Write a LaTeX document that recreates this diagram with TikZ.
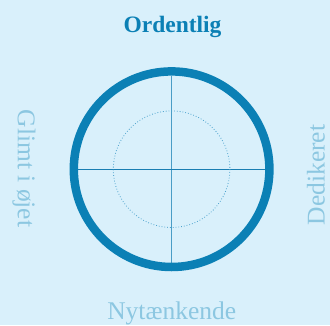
\documentclass[tikz,border=0pt]{standalone}
\usepackage{fontspec}
\setmainfont{Liberation Serif}
\definecolor{bgblue}{HTML}{D9F0FB}
\definecolor{deepblue}{HTML}{0B80B5}
\definecolor{paleblue}{HTML}{8CC7E1}
\definecolor{vline}{HTML}{4A9DC6}
\definecolor{hline}{HTML}{1A7EB2}
\definecolor{dotblue}{HTML}{4DA3CD}
\begin{document}
\begin{tikzpicture}[x=1pt,y=-1pt,
  title/.style={text=deepblue,font=\bfseries\fontsize{23.5}{26}\selectfont,inner sep=0pt},
  side/.style={text=paleblue,font=\fontsize{25.5}{28}\selectfont,inner sep=0pt}]
\useasboundingbox[fill=bgblue] (0,0) rectangle (330,325);
\coordinate (c) at (171.6,169.2);
\coordinate (top) at (171.6,75.5);
\coordinate (bot) at (171.6,263);
\coordinate (lft) at (78,169.2);
\coordinate (rgt) at (265,169.2);
\draw[vline,line width=1pt] (top) -- (bot);
\draw[hline,line width=1pt] (lft) -- (rgt);
\draw[dotblue,line width=0.8pt,dash pattern=on 0.8pt off 2pt] (c) circle[radius=58.3];
\draw[deepblue,line width=8.5pt] (c) circle[radius=97.8];
\node[title,anchor=base] (ord) at (172.5,32.7) {Ordentlig};
\node[side,anchor=base] (ny) at (171.7,319) {Nytænkende};
\node[side,rotate=-90] (gl) at (24,168.5) {Glimt i øjet};
\node[side,rotate=90] (de) at (316,175) {Dedikeret};
\end{tikzpicture}
\end{document}
